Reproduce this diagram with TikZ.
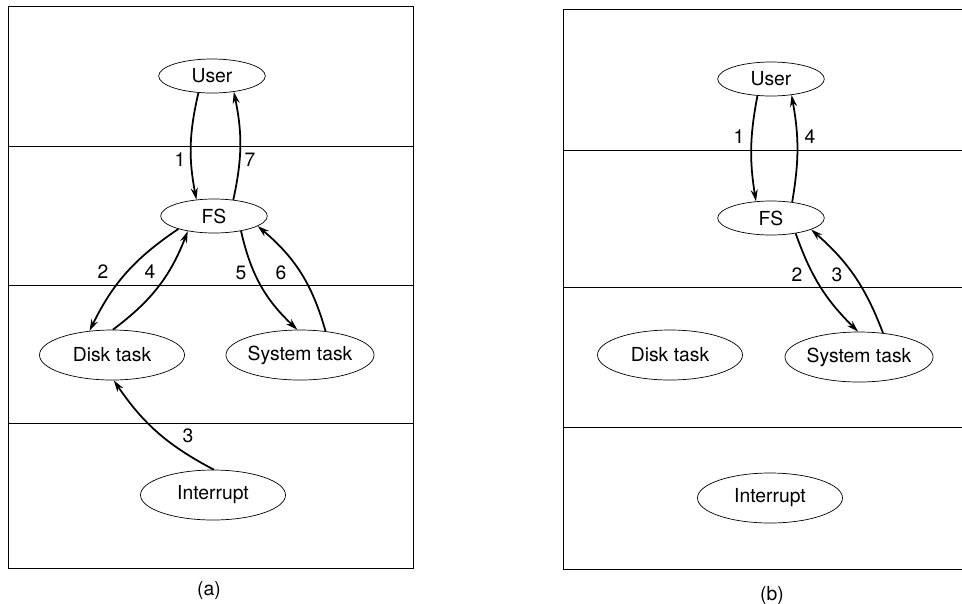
\documentclass[tikz,border=0pt]{standalone}
\usepackage{fontspec}
\setsansfont{TeX Gyre Heros}
\usetikzlibrary{arrows.meta, shapes.geometric}

\begin{document}
\begin{tikzpicture}[
    x=0.03cm, y=-0.03cm,
    font=\sffamily\fontsize{16.5}{19}\selectfont,
    proc node/.style={ellipse, draw, line width=0.6pt, inner sep=0pt, minimum width=3.2cm, minimum height=1.02cm},
    task node/.style={proc node, minimum width=4.35cm, minimum height=1.5cm},
    msg/.style={line width=1.5pt, -{Stealth[length=10pt, width=6pt]}},
    frame/.style={line width=0.7pt}
]
    \useasboundingbox (0,0) rectangle (962,603);

    % Frames
    \draw[frame] (8,6) rectangle (413,568);
    \draw[frame] (8,146) -- (413,146);
    \draw[frame] (8,285) -- (413,285);
    \draw[frame] (8,423) -- (413,423);
    \draw[frame] (962,9) -- (563,9) -- (563,569) -- (962,569);
    \draw[frame] (563,150) -- (962,150);
    \draw[frame] (563,287) -- (962,287);
    \draw[frame] (563,427) -- (962,427);

    % Nodes (a)
    \node[proc node] (userA) at (212,76) {User};
    \node[proc node] (fsA) at (214,216) {FS};
    \node[task node] (diskA) at (112,355) {Disk task};
    \node[task node] (sysA) at (300,355) {System task};
    \node[task node] (intA) at (213,495) {Interrupt};

    % Nodes (b)
    \node[proc node] (userB) at (771,79) {User};
    \node[proc node] (fsB) at (771,218) {FS};
    \node[task node] (diskB) at (670,355) {Disk task};
    \node[task node] (sysB) at (859,357) {System task};
    \node[task node] (intB) at (770,498) {Interrupt};

    % Edges (a)
    \draw[msg] (userA.-129) to[bend right=12] (fsA.137);
    \draw[msg] (fsA.40) to[bend right=12] (userA.-36);
    \draw[msg] (fsA.200) to[bend right=15] (diskA.133);
    \draw[msg] (diskA.88) to[bend right=16] (fsA.-150);
    \draw[msg] (fsA.-29) to[bend right=17] (sysA.96);
    \draw[msg] (sysA.43) to[bend right=17] (fsA.-13);
    \draw[msg] (intA.88) to[bend left=14] (diskA.-86);

    % Edges (b)
    \draw[msg] (userB.-129) to[bend right=10] (fsB.132);
    \draw[msg] (fsB.37) to[bend right=10] (userB.-38);
    \draw[msg] (fsB.-32) to[bend right=13] (sysB.92);
    \draw[msg] (sysB.45) to[bend right=14] (fsB.-16);

    % Labels
    \node (oneA) at (180,160) {1};
    \node (sevenA) at (250,160) {7};
    \node (twoA) at (103,272) {2};
    \node (fourA) at (150,272) {4};
    \node (fiveA) at (241,273) {5};
    \node (sixA) at (281,273) {6};
    \node (threeA) at (188,436) {3};
    \node (oneB) at (739,137) {1};
    \node (fourB) at (810,137) {4};
    \node (twoB) at (797,275) {2};
    \node (threeB) at (837,275) {3};
    \node (capA) at (209,590) {(a)};
    \node (capB) at (772,595) {(b)};
\end{tikzpicture}
\end{document}
